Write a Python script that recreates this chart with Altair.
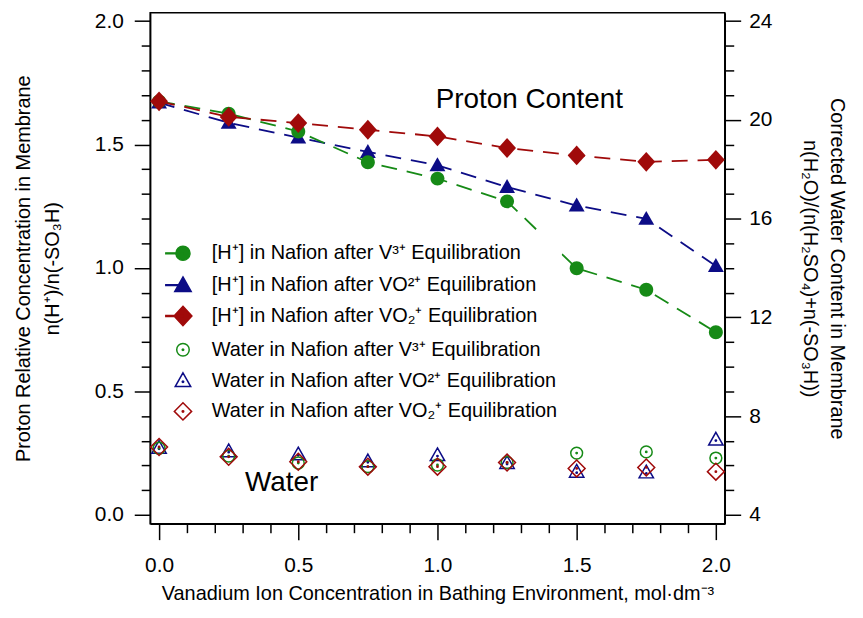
import altair as alt
import pandas as pd

# ---------------- data ----------------
conc = [0.0, 0.25, 0.5, 0.75, 1.0, 1.25, 1.5, 1.75, 2.0]
# proton relative concentration n(H+)/n(-SO3H)  (left axis)
h_v3 = [1.675, 1.625, 1.553, 1.428, 1.362, 1.270, 0.999, 0.912, 0.740]
h_vo2 = [1.670, 1.588, 1.528, 1.470, 1.416, 1.328, 1.253, 1.199, 1.008]
h_vo2p = [1.675, 1.612, 1.587, 1.560, 1.533, 1.486, 1.456, 1.430, 1.438]
# corrected water content (right axis)
w_v3 = [6.70, 6.38, 6.10, 5.95, 6.02, 6.12, 6.50, 6.55, 6.30]
w_vo2 = [6.72, 6.58, 6.45, 6.17, 6.42, 6.10, 5.75, 5.72, 7.05]
w_vo2p = [6.75, 6.35, 6.15, 5.95, 5.95, 6.12, 5.88, 5.92, 5.75]

proton_labels = [
    "[H⁺] in Nafion after V³⁺ Equilibration",
    "[H⁺] in Nafion after VO²⁺ Equilibration",
    "[H⁺] in Nafion after VO₂⁺ Equilibration",
]
water_labels = [
    "Water in Nafion after V³⁺  Equilibration",
    "Water in Nafion after VO²⁺ Equilibration",
    "Water in Nafion after VO₂⁺ Equilibration",
]
colors = ["#168a16", "#0c0c86", "#a00a0a"]

annot_text = ["Proton Content", "Water"]
annot_x = [1.33, 0.44]
annot_y = [1.68, 0.13]

x_ticks = [round(i * 0.1, 2) for i in range(0, 21)]
yl_ticks = [round(i * 0.1, 2) for i in range(0, 21)]
yr_ticks = list(range(4, 25))

# ---------------- tables ----------------
# draw order: blue, green, red (red on top)
order = [1, 0, 2]
h_series = [h_v3, h_vo2, h_vo2p]
w_series = [w_v3, w_vo2, w_vo2p]
prot = pd.DataFrame(
    [{"x": c, "h": h_series[k][i], "s": proton_labels[k]} for k in order for i, c in enumerate(conc)]
)
water = pd.DataFrame(
    [{"x": c, "w": w_series[k][i], "s": water_labels[k]} for k in order for i, c in enumerate(conc)]
)
annot = pd.DataFrame({"x": annot_x, "h": annot_y, "t": annot_text})
legend_df = pd.DataFrame({"s": proton_labels + water_labels})

FONT = "Liberation Sans"
MAJ = "abs(datum.value*2 - round(datum.value*2)) < 0.001"

x_axis = alt.Axis(
    values=x_ticks,
    labelExpr=f"{MAJ} ? format(datum.value, '.1f') : ''",
    tickSize={"condition": {"test": MAJ, "value": 16}, "value": 9},
    title="Vanadium Ion Concentration in Bathing Environment, mol·dm⁻³",
    titlePadding=8,
    labelPadding=15,
    labelOverlap=False,
)
yl_axis = alt.Axis(
    values=yl_ticks,
    labelExpr=f"{MAJ} ? format(datum.value, '.1f') : ''",
    tickSize={"condition": {"test": MAJ, "value": 16}, "value": 9},
    title=["Proton Relative Concentration in Membrane", "n(H⁺)/n(-SO₃H)"],
    titlePadding=32,
    titleLineHeight=29,
    labelPadding=11,
    labelOverlap=False,
)
yr_axis = alt.Axis(
    orient="right",
    values=yr_ticks,
    labelExpr="datum.value % 4 == 0 ? datum.label : ''",
    tickSize={"condition": {"test": "datum.value % 4 == 0", "value": 16}, "value": 9},
    title=["Corrected Water Content in Membrane", "n(H₂O)/(n(H₂SO₄)+n(-SO₃H))"],
    titlePadding=28,
    titleLineHeight=27,
    labelPadding=8,
    labelOverlap=False,
)

xdom = alt.Scale(domain=[-0.032, 2.032], nice=False, zero=False)
yldom = alt.Scale(domain=[-0.036, 2.034], nice=False, zero=False)
yrdom = alt.Scale(domain=[3.64, 24.34], nice=False, zero=False)

X = alt.X("x:Q", scale=xdom, axis=x_axis)
YL = alt.Y("h:Q", scale=yldom, axis=yl_axis)
YR = alt.Y("w:Q", scale=yrdom, axis=yr_axis)

# shapes for plotted markers
filled_paths = [
    "M0.7,0A0.7,0.7,0,1,1,-0.7,0A0.7,0.7,0,1,1,0.7,0Z",
    "M0,-0.8L0.8,0.6L-0.8,0.6Z",
    "M0,-1L0.9,0L0,1L-0.9,0Z",
]
DOT = "M0.08,0A0.08,0.08,0,1,1,-0.08,0A0.08,0.08,0,1,1,0.08,0Z"
open_paths = [
    "M0.7,0A0.7,0.7,0,1,1,-0.7,0A0.7,0.7,0,1,1,0.7,0Z" + DOT,
    "M0,-0.85L0.85,0.65L-0.85,0.65Z" + "M0.08,0.12A0.08,0.08,0,1,1,-0.08,0.12A0.08,0.08,0,1,1,0.08,0.12Z",
    "M0,-1L1,0L0,1L-1,0Z" + DOT,
]
# legend shapes (with short line stub for proton series)
STUB = "M-1.15,-0.03L0,-0.03L0,0.03L-1.15,0.03Z"
LDOT = "M0.05,0A0.05,0.05,0,1,1,-0.05,0A0.05,0.05,0,1,1,0.05,0Z"
legend_paths = [
    STUB + "M0.47,0A0.47,0.47,0,1,1,-0.47,0A0.47,0.47,0,1,1,0.47,0Z",
    STUB + "M0,-0.55L0.55,0.42L-0.55,0.42Z",
    STUB + "M0,-0.65L0.6,0L0,0.65L-0.6,0Z",
    "M0.42,0A0.42,0.42,0,1,1,-0.42,0A0.42,0.42,0,1,1,0.42,0Z" + LDOT,
    "M0,-0.52L0.52,0.4L-0.52,0.4Z" + "M0.05,0.08A0.05,0.05,0,1,1,-0.05,0.08A0.05,0.05,0,1,1,0.05,0.08Z",
    "M0,-0.58L0.58,0L0,0.58L-0.58,0Z" + LDOT,
]

pcolor = alt.Color("s:N", scale=alt.Scale(domain=proton_labels, range=colors), legend=None)

lines = alt.Chart(prot).mark_line(strokeDash=[16, 10], strokeWidth=1.8).encode(
    x=X, y=YL, color=pcolor, detail="s:N", order="x:Q"
)
pts = alt.Chart(prot).mark_point(filled=True, opacity=1, size=400).encode(
    x=X, y=YL, color=pcolor,
    shape=alt.Shape("s:N", scale=alt.Scale(domain=proton_labels, range=filled_paths), legend=None),
)
texts = alt.Chart(annot).mark_text(font=FONT, fontSize=28, color="black").encode(
    x=X, y=YL, text="t:N"
)
left = alt.layer(lines, pts, texts)

wpts = alt.Chart(water).mark_point(filled=False, opacity=1, size=289, strokeWidth=1.5).encode(
    x=X, y=YR,
    color=alt.Color("s:N", scale=alt.Scale(domain=water_labels, range=colors), legend=None),
    shape=alt.Shape("s:N", scale=alt.Scale(domain=water_labels, range=open_paths), legend=None),
)

all_labels = proton_labels + water_labels
leg = alt.Legend(
    orient="none", legendX=13, legendY=222, title=None,
    fillColor="white", padding=4, labelFont=FONT, labelFontSize=20, labelColor="black",
    labelLimit=0, symbolSize=900, symbolStrokeWidth=1.5, symbolOpacity=1,
    rowPadding=5, labelOffset=13,
)
legend_layer = alt.Chart(legend_df).transform_filter("false").mark_point(strokeWidth=1.5, opacity=1).encode(
    stroke=alt.Stroke("s:N", scale=alt.Scale(domain=all_labels, range=colors + colors), legend=leg),
    fill=alt.Fill("s:N", scale=alt.Scale(domain=all_labels, range=colors + ["transparent"] * 3), legend=leg),
    shape=alt.Shape("s:N", scale=alt.Scale(domain=all_labels, range=legend_paths), legend=leg),
)

chart = alt.layer(left, wpts, legend_layer).resolve_scale(
    y="independent", color="independent", shape="independent", fill="independent", stroke="independent"
).properties(
    width=578, height=514, padding={"left": 5, "top": 0, "right": 8, "bottom": 2}
).configure(
    background="white"
).configure_view(
    stroke="black", strokeWidth=1.5
).configure_axis(
    grid=False, domainColor="black", domainWidth=1.5, tickColor="black", tickWidth=1.5,
    labelFont=FONT, labelFontSize=21, labelColor="black",
    titleFont=FONT, titleFontSize=20, titleFontWeight="normal", titleColor="black",
)

chart.save("out.html", embed_options={"renderer": "svg", "actions": False})
